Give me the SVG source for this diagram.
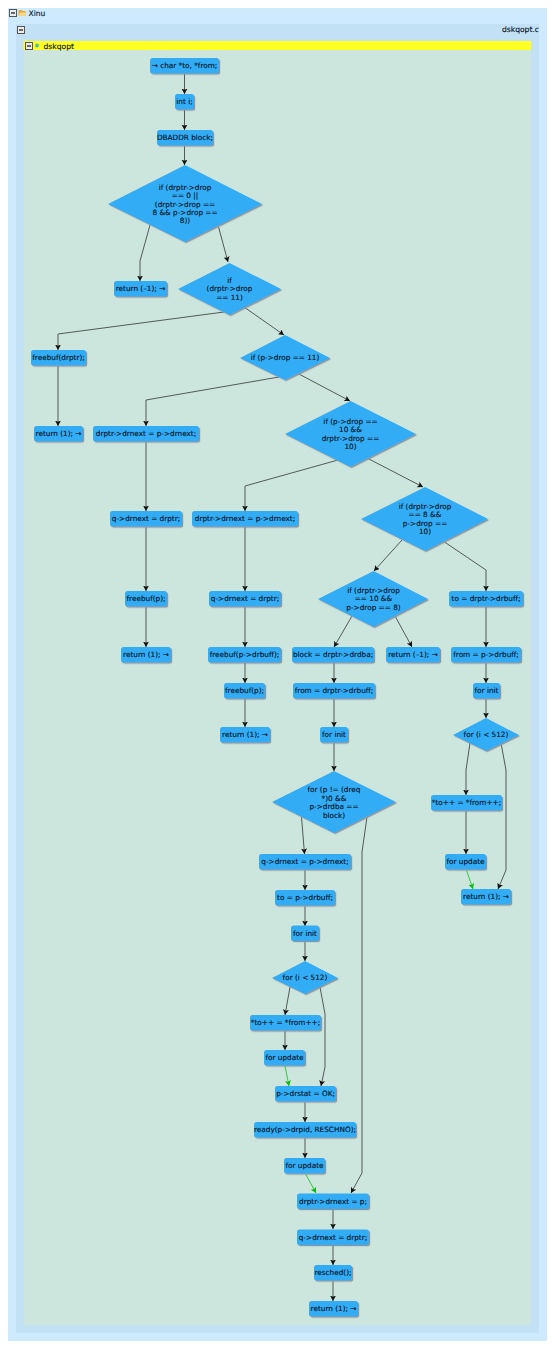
<svg xmlns="http://www.w3.org/2000/svg" width="555" height="1349" viewBox="0 0 555 1349">
<style>
text{font-family:"DejaVu Sans","Liberation Sans",sans-serif;font-size:7.3px;fill:#03101c;stroke:#03101c;stroke-width:0.12px;text-anchor:middle;dominant-baseline:central}
.t{text-anchor:start;dominant-baseline:auto;font-size:7.6px}
.n rect,.n polygon{fill:#33adf5;filter:url(#s)}
.n rect{rx:2.500px}
.e polyline{fill:none;stroke:#535959;stroke-width:1;marker-end:url(#a)}
.e .g{stroke:#2fcb3a;marker-end:url(#ag)}
.b{fill:#ececec;stroke:#555;stroke-width:1}
.m{stroke:#111;stroke-width:1.200}
</style>
<defs>
<filter id="s" x="-10%" y="-10%" width="125%" height="130%"><feDropShadow dx="1.200" dy="1.200" stdDeviation="0.250" flood-color="#8d979b"/></filter>
<marker id="a" markerUnits="userSpaceOnUse" markerWidth="7" markerHeight="7" refX="5.500" refY="3" orient="auto"><path d="M0 0L5.500 3L0 6L1.200 3Z" fill="#111"/></marker>
<marker id="ag" markerUnits="userSpaceOnUse" markerWidth="7" markerHeight="7" refX="5.500" refY="3" orient="auto"><path d="M0 0L5.500 3L0 6L1.200 3Z" fill="#0cb814"/></marker>
</defs>
<rect width="555" height="1349" fill="#fff"/>
<rect x="8" y="8" width="539" height="1333" fill="#cdeafe"/>
<rect x="16" y="24" width="523" height="1309" fill="#c3e1f5"/>
<rect x="24" y="50" width="507" height="1275" fill="#cde6dd"/>
<rect x="23.500" y="41" width="507.500" height="9" fill="#ffff22"/>
<g id="headers">
<rect class="b" x="9.500" y="9.500" width="7" height="7"/><path class="m" d="M11 13h4"/>
<path d="M18.500 10h3l1 1h3v5h-7z" fill="#e8a93c"/><path d="M20 12.500h6.500l-1.500 3.500h-6.500z" fill="#f7d58a"/>
<text class="t" x="28.500" y="16">Xinu</text>
<rect class="b" x="17.500" y="26.500" width="7" height="7"/><path class="m" d="M19 30h4"/>
<text class="t" x="539" y="32" style="text-anchor:end">dskqopt.c</text>
<rect class="b" x="25.500" y="42.500" width="7" height="7"/><path class="m" d="M27 46h4"/>
<circle cx="37" cy="45.500" r="2" fill="#4fc3a0"/>
<text class="t" x="43.500" y="49">dskqopt</text>
</g>
<g id="connectors" class="e">
<polyline points="184.500,73 184.500,94"/>
<polyline points="184.500,109 184.500,130"/>
<polyline points="184.500,145 184.500,165"/>
<polyline points="150,225 140,261 140,281"/>
<polyline points="218,225 228,262"/>
<polyline points="224,312 58,334 58,350"/>
<polyline points="244,307 284,335"/>
<polyline points="58,365 58,426"/>
<polyline points="279,377 146,400 146,426"/>
<polyline points="297,373 350,401"/>
<polyline points="146,441 146,511"/>
<polyline points="146,526 146,591"/>
<polyline points="146,606 146,647"/>
<polyline points="338,460 245,486 245,511"/>
<polyline points="367,458 423,487"/>
<polyline points="245,526 245,591"/>
<polyline points="245,606 245,647"/>
<polyline points="245,662 245,683"/>
<polyline points="245,698 245,727"/>
<polyline points="402,540 374,571"/>
<polyline points="443,541 486,570 486,591"/>
<polyline points="352,616 334,647"/>
<polyline points="395,616 412,647"/>
<polyline points="334,662 334,683"/>
<polyline points="334,698 334,727"/>
<polyline points="334,742 334,771"/>
<polyline points="486,606 486,647"/>
<polyline points="486,662 486,683"/>
<polyline points="486,698 486,718"/>
<polyline points="470,743 466,770 466,795"/>
<polyline points="501,743 506,770 506,870 498,889"/>
<polyline points="466,810 466,854"/>
<polyline class="g" points="466,869 473,889"/>
<polyline points="301.500,817 304.500,854"/>
<polyline points="367,817 362,852 362,1173 351,1193"/>
<polyline points="305,870 305,890"/>
<polyline points="305,905 305,926"/>
<polyline points="305,941 305,961"/>
<polyline points="290,987 285,1015"/>
<polyline points="320,987 325,1014 325,1067 321,1086"/>
<polyline points="285,1030 285,1050"/>
<polyline class="g" points="285,1066 289,1086"/>
<polyline points="305,1101 305,1122"/>
<polyline points="305,1137 305,1158"/>
<polyline class="g" points="305,1173 316,1193"/>
<polyline points="333,1209 333,1229"/>
<polyline points="333,1245 333,1265"/>
<polyline points="333,1280 333,1301"/>
</g>
<g id="n1" class="n"><rect x="150" y="58" width="69" height="15.500"/><text x="184.500" y="65.500">→ char *to, *from;</text></g>
<g id="n2" class="n"><rect x="175" y="94" width="19" height="15.500"/><text x="184.500" y="101.500">int i;</text></g>
<g id="n3" class="n"><rect x="157" y="130" width="56" height="15.500"/><text x="185" y="137.500">DBADDR block;</text></g>
<g id="d1" class="n"><polygon points="185,165 262,204 185,242 108,204"/><text x="185" y="187">if (drptr-&gt;drop</text><text x="185" y="195.500">== 0 ||</text><text x="185" y="204">(drptr-&gt;drop ==</text><text x="185" y="212.500">8 &amp;&amp; p-&gt;drop ==</text><text x="185" y="220.500">8))</text></g>
<g id="n4" class="n"><rect x="114" y="281" width="53" height="15.500"/><text x="140.500" y="288.500">return (–1); →</text></g>
<g id="d2" class="n"><polygon points="229.500,263 281,289 229.500,315 178,289"/><text x="229.500" y="280">if</text><text x="229.500" y="288.500">(drptr-&gt;drop</text><text x="229.500" y="297">== 11)</text></g>
<g id="n5" class="n"><rect x="31" y="350" width="55" height="15.500"/><text x="58.500" y="357.500">freebuf(drptr);</text></g>
<g id="d3" class="n"><polygon points="285,335 330,358 285,380 240,358"/><text x="285" y="357.500">if (p-&gt;drop == 11)</text></g>
<g id="n6" class="n"><rect x="34" y="426" width="49" height="15.500"/><text x="58.500" y="433.500">return (1); →</text></g>
<g id="n7" class="n"><rect x="93" y="426" width="106" height="15.500"/><text x="146" y="433.500">drptr-&gt;drnext = p-&gt;drnext;</text></g>
<g id="d4" class="n"><polygon points="350.500,401 416,434 350.500,467 285,434"/><text x="350.500" y="421">if (p-&gt;drop ==</text><text x="350.500" y="429.500">10 &amp;&amp;</text><text x="350.500" y="438">drptr-&gt;drop ==</text><text x="350.500" y="446">10)</text></g>
<g id="n8" class="n"><rect x="110" y="511" width="72" height="15.500"/><text x="146" y="518.500">q-&gt;drnext = drptr;</text></g>
<g id="n9" class="n"><rect x="192" y="511" width="106" height="15.500"/><text x="245" y="518.500">drptr-&gt;drnext = p-&gt;drnext;</text></g>
<g id="d5" class="n"><polygon points="425,487 488,519 425,551 361,519"/><text x="425" y="506.500">if (drptr-&gt;drop</text><text x="425" y="514.500">== 8 &amp;&amp;</text><text x="425" y="523">p-&gt;drop ==</text><text x="425" y="531">10)</text></g>
<g id="n10" class="n"><rect x="125" y="591" width="42" height="15.500"/><text x="146" y="598.500">freebuf(p);</text></g>
<g id="n11" class="n"><rect x="209" y="591" width="72" height="15.500"/><text x="245" y="598.500">q-&gt;drnext = drptr;</text></g>
<g id="d6" class="n"><polygon points="373.500,571 428,599 373.500,627 318,599"/><text x="373.500" y="590">if (drptr-&gt;drop</text><text x="373.500" y="598.500">== 10 &amp;&amp;</text><text x="373.500" y="607">p-&gt;drop == 8)</text></g>
<g id="n12" class="n"><rect x="449" y="591" width="74" height="15.500"/><text x="486" y="598.500">to = drptr-&gt;drbuff;</text></g>
<g id="n13" class="n"><rect x="121" y="647" width="50" height="15.500"/><text x="146" y="654.500">return (1); →</text></g>
<g id="n14" class="n"><rect x="208" y="647" width="73" height="15.500"/><text x="244.500" y="654.500">freebuf(p-&gt;drbuff);</text></g>
<g id="n15" class="n"><rect x="292" y="647" width="82" height="15.500"/><text x="333" y="654.500">block = drptr-&gt;drdba;</text></g>
<g id="n16" class="n"><rect x="386" y="647" width="54" height="15.500"/><text x="413" y="654.500">return (–1); →</text></g>
<g id="n17" class="n"><rect x="451" y="647" width="70" height="15.500"/><text x="486" y="654.500">from = p-&gt;drbuff;</text></g>
<g id="n18" class="n"><rect x="224" y="683" width="41" height="15.500"/><text x="244.500" y="690.500">freebuf(p);</text></g>
<g id="n19" class="n"><rect x="293" y="683" width="82" height="15.500"/><text x="334" y="690.500">from = drptr-&gt;drbuff;</text></g>
<g id="n20" class="n"><rect x="473" y="683" width="27" height="15.500"/><text x="486.500" y="690.500">for init</text></g>
<g id="n21" class="n"><rect x="220" y="727" width="50" height="15.500"/><text x="245" y="734.500">return (1); →</text></g>
<g id="n22" class="n"><rect x="320" y="727" width="28" height="15.500"/><text x="334" y="734.500">for init</text></g>
<g id="d7" class="n"><polygon points="486,718 519,735 486,751 453,735"/><text x="486" y="734.500">for (i &lt; 512)</text></g>
<g id="d8" class="n"><polygon points="334,771 396,802 334,833 272,802"/><text x="334" y="789.500">for (p != (dreq</text><text x="334" y="798">*)0 &amp;&amp;</text><text x="334" y="806.500">p-&gt;drdba ==</text><text x="334" y="815">block)</text></g>
<g id="n23" class="n"><rect x="431" y="795" width="71" height="15.500"/><text x="466.500" y="802.500">*to++ = *from++;</text></g>
<g id="n24" class="n"><rect x="445" y="854" width="41" height="15.500"/><text x="465.500" y="861.500">for update</text></g>
<g id="n25" class="n"><rect x="259" y="854" width="92" height="15.500"/><text x="305" y="861.500">q-&gt;drnext = p-&gt;drnext;</text></g>
<g id="n26" class="n"><rect x="461" y="889" width="50" height="15.500"/><text x="486" y="896.500">return (1); →</text></g>
<g id="n27" class="n"><rect x="275" y="890" width="60" height="15.500"/><text x="305" y="897.500">to = p-&gt;drbuff;</text></g>
<g id="n28" class="n"><rect x="291" y="925.500" width="28" height="15.500"/><text x="305" y="933">for init</text></g>
<g id="d9" class="n"><polygon points="305,961 338,978 305,994 272,978"/><text x="305" y="977.500">for (i &lt; 512)</text></g>
<g id="n29" class="n"><rect x="250" y="1015" width="71" height="15.500"/><text x="285.500" y="1022.500">*to++ = *from++;</text></g>
<g id="n30" class="n"><rect x="264" y="1050" width="41" height="15.500"/><text x="284.500" y="1057.500">for update</text></g>
<g id="n31" class="n"><rect x="275" y="1086" width="61" height="15.500"/><text x="305.500" y="1093.500">p-&gt;drstat = OK;</text></g>
<g id="n32" class="n"><rect x="254" y="1122" width="102" height="15.500"/><text x="305" y="1129.500">ready(p-&gt;drpid, RESCHNO);</text></g>
<g id="n33" class="n"><rect x="284" y="1158" width="41" height="15.500"/><text x="304.500" y="1165.500">for update</text></g>
<g id="n34" class="n"><rect x="297" y="1193.500" width="72" height="15.500"/><text x="333" y="1201">drptr-&gt;drnext = p;</text></g>
<g id="n35" class="n"><rect x="297" y="1229.500" width="72" height="15.500"/><text x="333" y="1237">q-&gt;drnext = drptr;</text></g>
<g id="n36" class="n"><rect x="314" y="1265" width="38" height="15.500"/><text x="333" y="1272.500">resched();</text></g>
<g id="n37" class="n"><rect x="309" y="1301" width="49" height="15.500"/><text x="333.500" y="1308.500">return (1); →</text></g>
</svg>
